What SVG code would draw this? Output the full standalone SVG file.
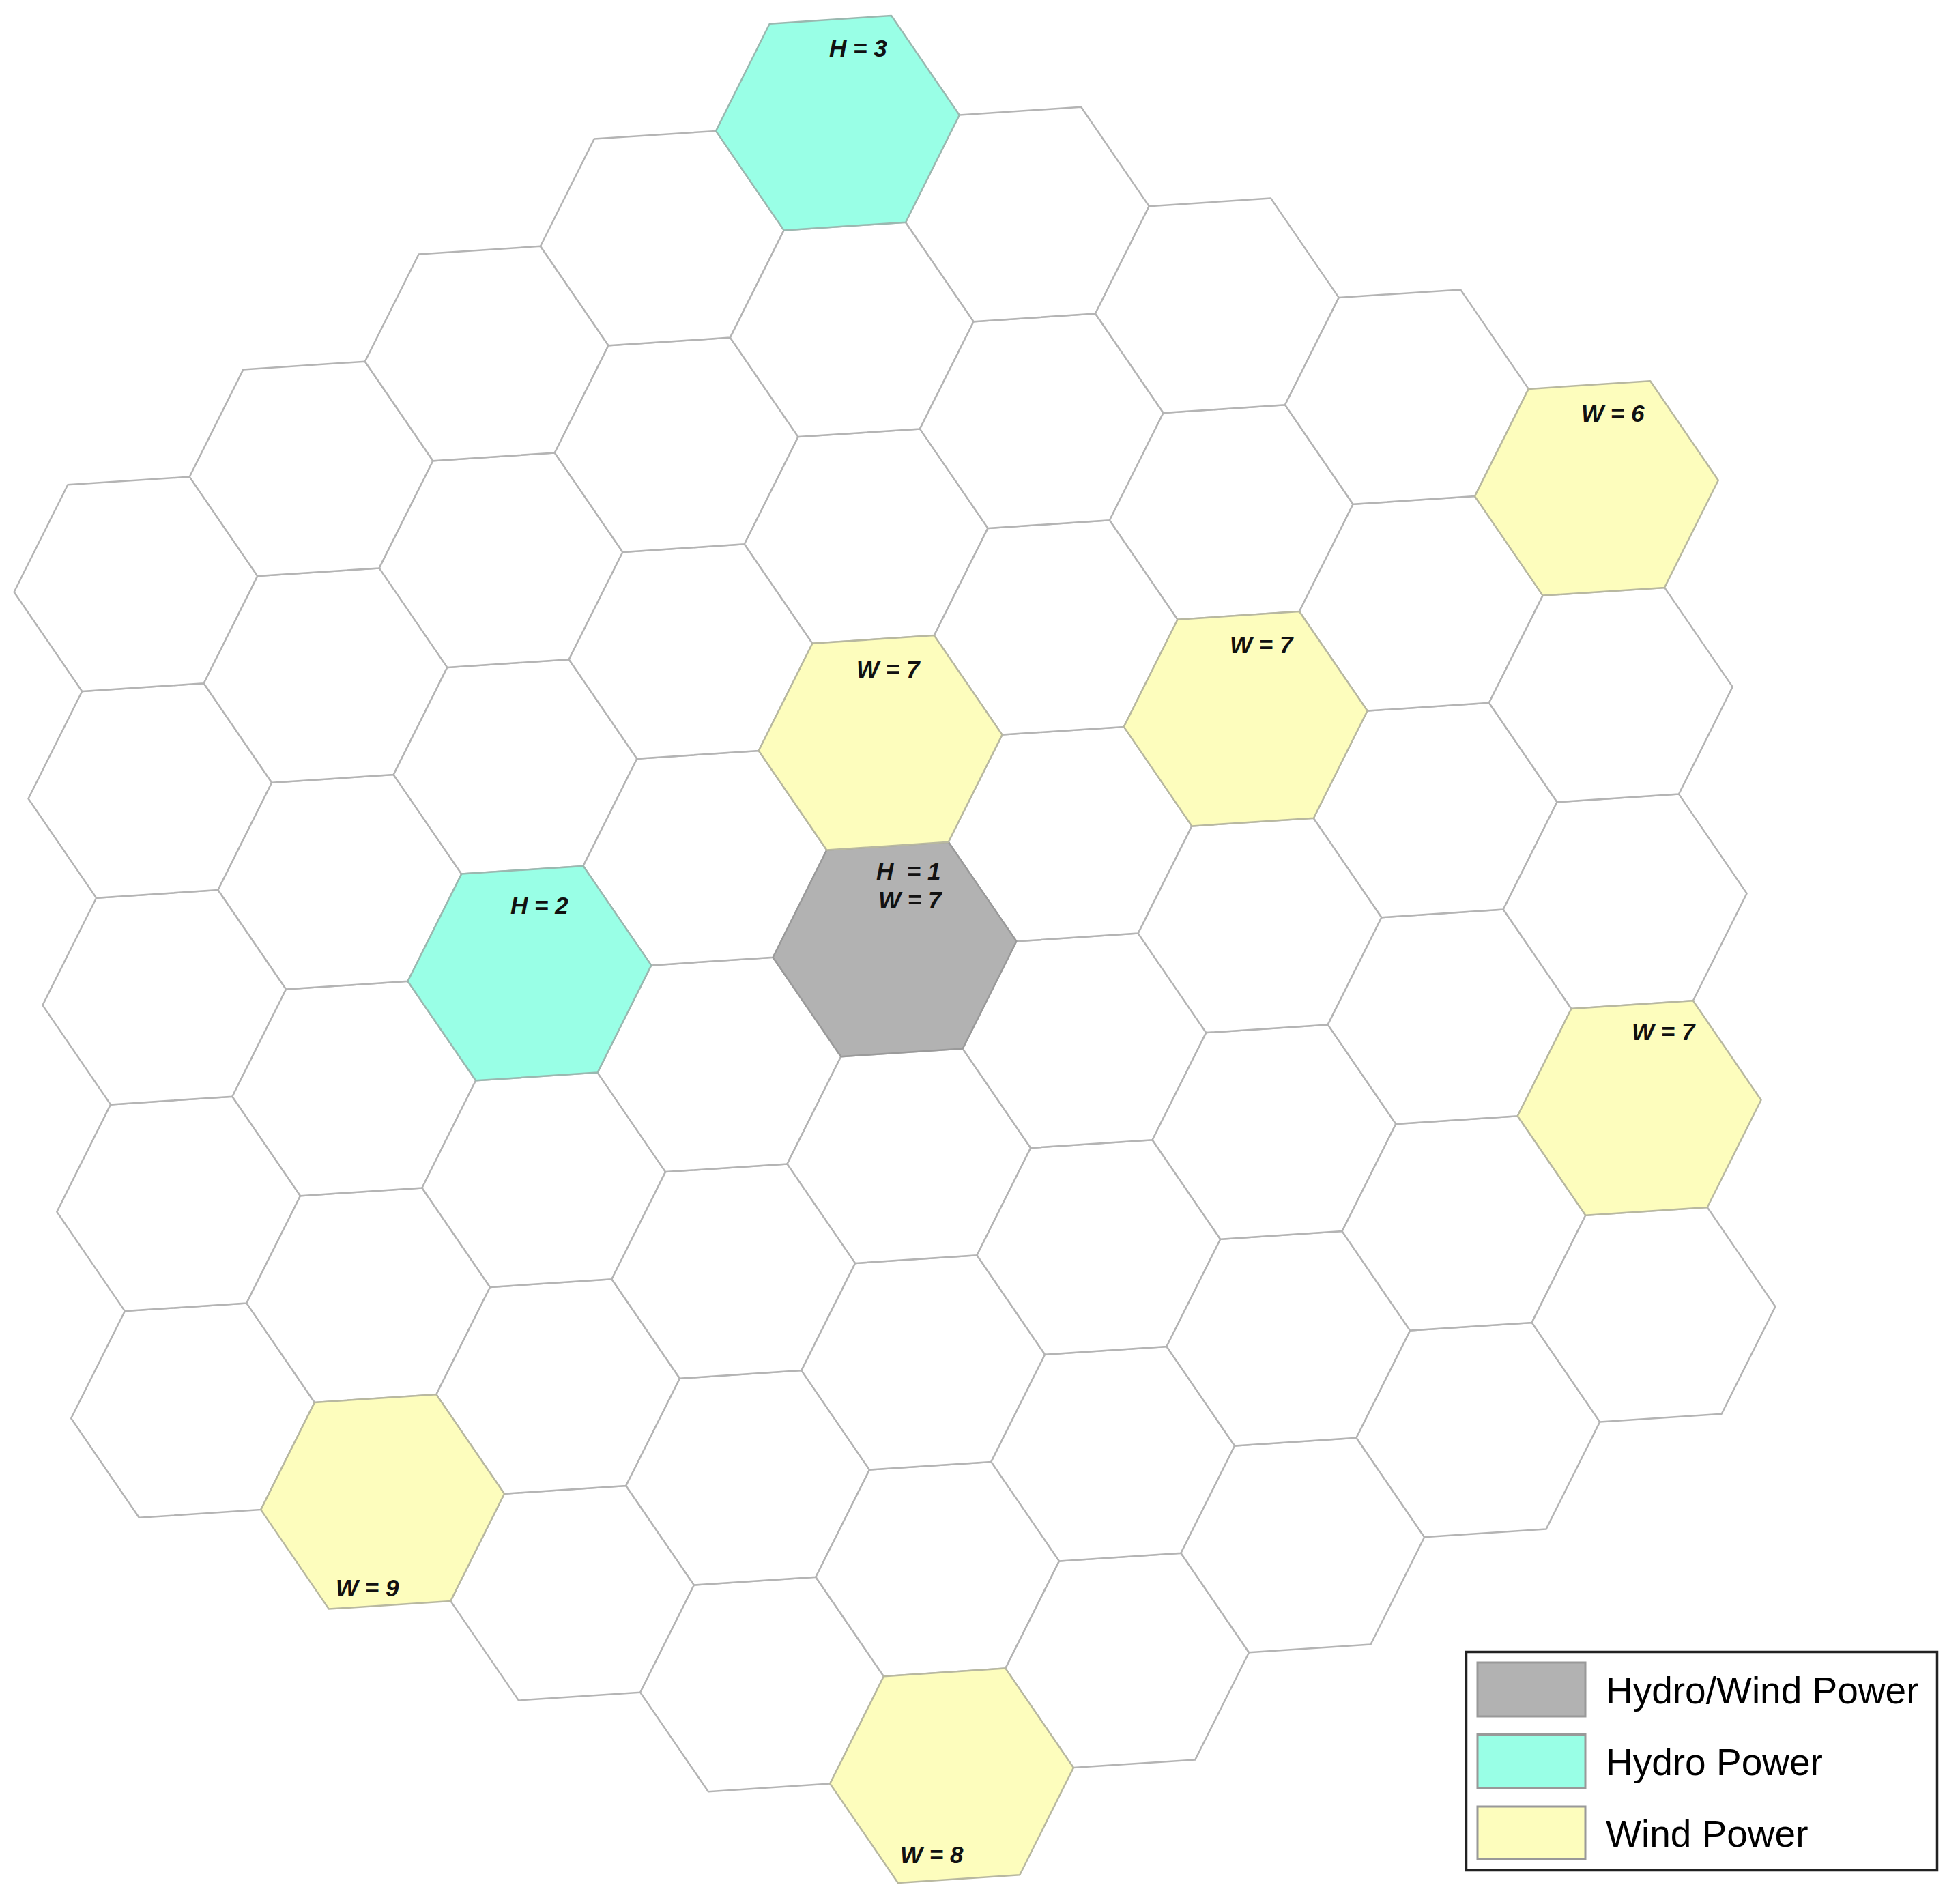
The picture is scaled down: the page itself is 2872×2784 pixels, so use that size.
<svg xmlns="http://www.w3.org/2000/svg" xmlns:xlink="http://www.w3.org/1999/xlink" width="2872" height="2784" viewBox="0 0 2872 2784">
<style>
.hex{stroke:#b4b4b4;stroke-width:2.5;stroke-linejoin:round}
.e{fill:#ffffff}
.g{fill:#b2b2b2;stroke:#9a9a9a}
.c{fill:#99ffe6;stroke:#9ab8b0}
.y{fill:#fdfdbd;stroke:#b8b8a0}
.lbl{font-family:"Liberation Sans",Arial,sans-serif;font-weight:bold;font-style:italic;font-size:35px;fill:#111}
.leg{font-family:"Liberation Sans",Arial,sans-serif;font-size:55px;fill:#000}
.sw{stroke:#999;stroke-width:3}
</style>
<defs>
<polygon id="hx" points="178.4,-11.7 78.75,-157.2 -99.65,-145.5 -178.4,11.7 -78.75,157.2 99.65,145.5"/>
</defs>
<rect width="2872" height="2784" fill="#ffffff"/>
<g id="grid">
<g id="hex-b-4-a0"><use href="#hx" class="hex e" x="282.6" y="2066.6"/></g>
<g id="hex-b-4-a1"><use href="#hx" class="hex e" x="261.7" y="1763.9"/></g>
<g id="hex-b-4-a2"><use href="#hx" class="hex e" x="240.8" y="1461.2"/></g>
<g id="hex-b-4-a3"><use href="#hx" class="hex e" x="219.9" y="1158.5"/></g>
<g id="hex-b-4-a4"><use href="#hx" class="hex e" x="199.0" y="855.8"/></g>
<g id="hex-b-3-a0"><use href="#hx" class="hex e" x="539.7" y="1897.7"/></g>
<g id="hex-b-3-a1"><use href="#hx" class="hex e" x="518.8" y="1595.0"/></g>
<g id="hex-b-3-a2"><use href="#hx" class="hex e" x="497.9" y="1292.3"/></g>
<g id="hex-b-3-a3"><use href="#hx" class="hex e" x="477.0" y="989.6"/></g>
<g id="hex-b-3-a4"><use href="#hx" class="hex e" x="456.1" y="686.9"/></g>
<g id="hex-b-2-a-2"><use href="#hx" class="hex e" x="838.6" y="2334.2"/></g>
<g id="hex-b-2-a-1"><use href="#hx" class="hex e" x="817.7" y="2031.5"/></g>
<g id="hex-b-2-a0"><use href="#hx" class="hex e" x="796.8" y="1728.8"/></g>
<g id="hex-b-2-a2"><use href="#hx" class="hex e" x="755.0" y="1123.4"/></g>
<g id="hex-b-2-a3"><use href="#hx" class="hex e" x="734.1" y="820.7"/></g>
<g id="hex-b-2-a4"><use href="#hx" class="hex e" x="713.2" y="518.0"/></g>
<g id="hex-b-1-a-3"><use href="#hx" class="hex e" x="1116.6" y="2468.0"/></g>
<g id="hex-b-1-a-2"><use href="#hx" class="hex e" x="1095.7" y="2165.3"/></g>
<g id="hex-b-1-a-1"><use href="#hx" class="hex e" x="1074.8" y="1862.6"/></g>
<g id="hex-b-1-a0"><use href="#hx" class="hex e" x="1053.9" y="1559.9"/></g>
<g id="hex-b-1-a1"><use href="#hx" class="hex e" x="1033.0" y="1257.2"/></g>
<g id="hex-b-1-a2"><use href="#hx" class="hex e" x="1012.1" y="954.5"/></g>
<g id="hex-b-1-a3"><use href="#hx" class="hex e" x="991.2" y="651.8"/></g>
<g id="hex-b-1-a4"><use href="#hx" class="hex e" x="970.3" y="349.1"/></g>
<g id="hex-b0-a-3"><use href="#hx" class="hex e" x="1373.7" y="2299.1"/></g>
<g id="hex-b0-a-2"><use href="#hx" class="hex e" x="1352.8" y="1996.4"/></g>
<g id="hex-b0-a-1"><use href="#hx" class="hex e" x="1331.9" y="1693.7"/></g>
<g id="hex-b0-a2"><use href="#hx" class="hex e" x="1269.2" y="785.6"/></g>
<g id="hex-b0-a3"><use href="#hx" class="hex e" x="1248.3" y="482.9"/></g>
<g id="hex-b1-a-4"><use href="#hx" class="hex e" x="1651.7" y="2432.9"/></g>
<g id="hex-b1-a-3"><use href="#hx" class="hex e" x="1630.8" y="2130.2"/></g>
<g id="hex-b1-a-2"><use href="#hx" class="hex e" x="1609.9" y="1827.5"/></g>
<g id="hex-b1-a-1"><use href="#hx" class="hex e" x="1589.0" y="1524.8"/></g>
<g id="hex-b1-a0"><use href="#hx" class="hex e" x="1568.1" y="1222.1"/></g>
<g id="hex-b1-a1"><use href="#hx" class="hex e" x="1547.2" y="919.4"/></g>
<g id="hex-b1-a2"><use href="#hx" class="hex e" x="1526.3" y="616.7"/></g>
<g id="hex-b1-a3"><use href="#hx" class="hex e" x="1505.4" y="314.0"/></g>
<g id="hex-b2-a-4"><use href="#hx" class="hex e" x="1908.8" y="2264.0"/></g>
<g id="hex-b2-a-3"><use href="#hx" class="hex e" x="1887.9" y="1961.3"/></g>
<g id="hex-b2-a-2"><use href="#hx" class="hex e" x="1867.0" y="1658.6"/></g>
<g id="hex-b2-a-1"><use href="#hx" class="hex e" x="1846.1" y="1355.9"/></g>
<g id="hex-b2-a1"><use href="#hx" class="hex e" x="1804.3" y="750.5"/></g>
<g id="hex-b2-a2"><use href="#hx" class="hex e" x="1783.4" y="447.8"/></g>
<g id="hex-b3-a-4"><use href="#hx" class="hex e" x="2165.9" y="2095.1"/></g>
<g id="hex-b3-a-3"><use href="#hx" class="hex e" x="2145.0" y="1792.4"/></g>
<g id="hex-b3-a-2"><use href="#hx" class="hex e" x="2124.1" y="1489.7"/></g>
<g id="hex-b3-a-1"><use href="#hx" class="hex e" x="2103.2" y="1187.0"/></g>
<g id="hex-b3-a0"><use href="#hx" class="hex e" x="2082.3" y="884.3"/></g>
<g id="hex-b3-a1"><use href="#hx" class="hex e" x="2061.4" y="581.6"/></g>
<g id="hex-b4-a-4"><use href="#hx" class="hex e" x="2423.0" y="1926.2"/></g>
<g id="hex-b4-a-2"><use href="#hx" class="hex e" x="2381.2" y="1320.8"/></g>
<g id="hex-b4-a-1"><use href="#hx" class="hex e" x="2360.3" y="1018.1"/></g>
</g>
<g id="energy-cells">
<g id="hex-center-hw"><use href="#hx" class="hex g" x="1311" y="1391"/>
<text class="lbl" x="1284" y="1289" xml:space="preserve">H  = 1</text>
<text class="lbl" x="1287" y="1331">W = 7</text></g>
<g id="hex-h3"><use href="#hx" class="hex c" x="1227.4" y="180.2"/><text class="lbl" x="1215" y="83">H = 3</text></g>
<g id="hex-h2"><use href="#hx" class="hex c" x="775.9" y="1426.1"/><text class="lbl" x="748" y="1339">H = 2</text></g>
<g id="hex-w7-a"><use href="#hx" class="hex y" x="1290.1" y="1088.3"/><text class="lbl" x="1255" y="993">W = 7</text></g>
<g id="hex-w7-b"><use href="#hx" class="hex y" x="1825.2" y="1053.2"/><text class="lbl" x="1802" y="957">W = 7</text></g>
<g id="hex-w6"><use href="#hx" class="hex y" x="2339.4" y="715.4"/><text class="lbl" x="2317" y="618">W = 6</text></g>
<g id="hex-w7-c"><use href="#hx" class="hex y" x="2402.1" y="1623.5"/><text class="lbl" x="2391" y="1524">W = 7</text></g>
<g id="hex-w9"><use href="#hx" class="hex y" x="560.6" y="2200.4"/><text class="lbl" x="492" y="2339">W = 9</text></g>
<g id="hex-w8"><use href="#hx" class="hex y" x="1394.6" y="2601.8"/><text class="lbl" x="1319" y="2730">W = 8</text></g>
</g>
<g id="connectors"/>
<g id="legend">
<rect x="2148.5" y="2420.5" width="690" height="320" fill="#ffffff" stroke="#222" stroke-width="3.5"/>
<rect class="sw" x="2165" y="2436" width="158" height="79" fill="#b2b2b2"/>
<rect class="sw" x="2165" y="2541.5" width="158" height="78" fill="#99ffe6"/>
<rect class="sw" x="2165" y="2647" width="158" height="77" fill="#fdfdbd"/>
<text class="leg" x="2353" y="2496">Hydro/Wind Power</text>
<text class="leg" x="2353" y="2601">Hydro Power</text>
<text class="leg" x="2353" y="2706">Wind Power</text>
</g>
</svg>
